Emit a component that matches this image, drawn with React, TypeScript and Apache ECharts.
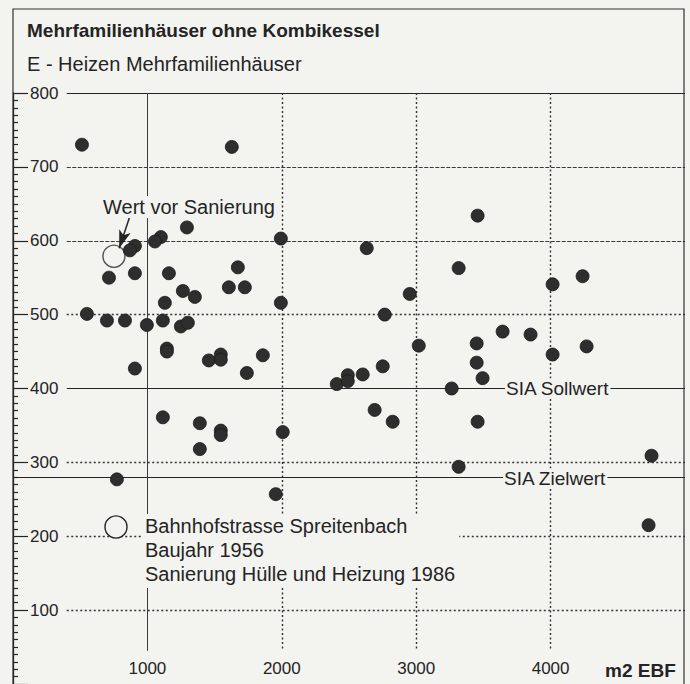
import React, { useEffect, useRef } from "react";
import * as echarts from "echarts";

// ---- data ----
const TITLE = "Mehrfamilienhäuser ohne Kombikessel";
const SUBTITLE = "E - Heizen Mehrfamilienhäuser";
const X_UNIT = "m2 EBF";

// energy reference area (m2 EBF)
const areas = [
  513, 1628, 1294, 3457, 1100, 1056, 907, 870, 1993, 2632,
  714, 907, 1160, 1673, 1606, 1725, 3316, 4015, 4238, 2952,
  550, 699, 833, 996, 1115, 1264, 1353, 1130, 1993, 1249,
  1301, 2766, 3643, 3851, 3019, 3450, 4268, 1145, 1145, 1457,
  1546, 1546, 1859, 907, 1740, 4015, 3450, 3494, 2409, 2491,
  2491, 2602, 2751, 3264, 1115, 1390, 1546, 1546, 1390, 2007,
  2691, 2825, 3457, 3316, 773, 1955, 4751, 4729,
];
// heating energy index
const heating = [
  730, 727, 618, 634, 605, 599, 593, 587, 603, 590,
  550, 556, 556, 564, 537, 537, 563, 541, 552, 528,
  501, 492, 492, 486, 492, 532, 524, 516, 516, 484,
  489, 500, 477, 473, 458, 461, 457, 454, 450, 438,
  446, 439, 445, 427, 421, 446, 435, 414, 406, 418,
  410, 419, 430, 400, 361, 353, 343, 337, 318, 341,
  371, 355, 355, 294, 277, 257, 309, 215,
];

// Bahnhofstrasse Spreitenbach, value before renovation
const beforeArea = 751;
const beforeValue = 579;
const arrowFrom = [866, 631];
const arrowTo = [790, 590];

const Y_TICKS = [0, 100, 200, 300, 400, 500, 600, 700, 800];
const X_TICKS = [0, 1000, 2000, 3000, 4000, 5000];
const SIA_SOLLWERT = 400;
const SIA_ZIELWERT = 280;

const LEGEND_LINES = [
  "Bahnhofstrasse Spreitenbach",
  "Baujahr 1956",
  "Sanierung Hülle und Heizung 1986",
];

// ---- styles ----
const FONT = "'Liberation Sans', Arial, Helvetica, sans-serif";
const BG = "#f3f3f0";
const INK = "#242424";
const DOT = "#2e2e2e";

export default function App() {
  const ref = useRef<HTMLDivElement>(null);

  useEffect(() => {
    if (!ref.current) return;
    const chart = echarts.init(ref.current, null, { renderer: "svg" });

    const solid = { type: "solid", color: INK, width: 1.2 };
    const fineDash = { type: [4, 1.5], color: "#3a3a3a", width: 1.1 };
    const dotted = { type: [2, 2.5], color: "#333", width: 1.4 };

    const hStyle: Record<number, any> = {
      800: solid,
      700: fineDash,
      600: fineDash,
      500: dotted,
      300: dotted,
      200: dotted,
      100: dotted,
    };
    hStyle[SIA_SOLLWERT] = solid;

    const xMax = X_TICKS[X_TICKS.length - 1];
    const yMax = Y_TICKS[Y_TICKS.length - 1];

    const hLines: any[] = Y_TICKS.filter((v) => v > 0).map((v) => [
      { coord: [400, v], lineStyle: hStyle[v] },
      { coord: [xMax, v] },
    ]);
    hLines.push([
      { coord: [0, SIA_ZIELWERT], lineStyle: solid },
      { coord: [xMax, SIA_ZIELWERT] },
    ]);
    const vLines: any[] = X_TICKS.filter((v) => v > 0 && v < xMax).map((v) => [
      {
        coord: [v, yMax],
        lineStyle: v === 1000 ? { type: "solid", color: "#3a3a3a", width: 1 } : dotted,
      },
      { coord: [v, 45] },
    ]);

    const textBox = (extra: any) => ({
      type: "text",
      z: 20,
      style: {
        fill: INK,
        font: `20px ${FONT}`,
        backgroundColor: BG,
        verticalAlign: "middle",
        textVerticalAlign: "middle",
        ...extra,
      },
    });

    chart.setOption({
      animation: false,
      backgroundColor: BG,
      textStyle: { fontFamily: FONT },
      grid: { left: 13, right: 5, top: 93, bottom: -4, containLabel: false },
      xAxis: {
        type: "value",
        min: 0,
        max: xMax,
        interval: 1000,
        axisLine: { show: false },
        axisTick: { show: false },
        splitLine: { show: false },
        axisLabel: {
          inside: true,
          margin: 7,
          fontSize: 17,
          color: INK,
          fontFamily: FONT,
          formatter: (v: number) => (v === 0 || v === xMax ? "" : String(v)),
        },
      },
      yAxis: {
        type: "value",
        min: 0,
        max: yMax,
        interval: 100,
        axisLine: { show: true, lineStyle: { color: INK, width: 1.3 } },
        axisTick: { show: true, inside: true, length: 15, lineStyle: { color: INK, width: 1.2 } },
        minorTick: { show: true, splitNumber: 10, length: 5, lineStyle: { color: INK, width: 1.2 } },
        splitLine: { show: false },
        axisLabel: {
          inside: true,
          margin: 17,
          fontSize: 17,
          color: INK,
          fontFamily: FONT,
          formatter: (v: number) => (v === 0 ? "" : String(v)),
        },
      },
      series: [
        {
          type: "scatter",
          name: "grid",
          data: [],
          z: 1,
          markLine: {
            silent: true,
            symbol: ["none", "none"],
            label: { show: false },
            data: [...hLines, ...vLines],
          },
        },
        {
          type: "scatter",
          name: "Mehrfamilienhäuser",
          z: 5,
          symbolSize: 13,
          itemStyle: { color: DOT, borderColor: "#1a1a1a", borderWidth: 0.8, opacity: 1 },
          data: areas.map((a, i) => [a, heating[i]]),
        },
        {
          type: "scatter",
          name: "Wert vor Sanierung",
          z: 6,
          symbol: "circle",
          symbolSize: 22,
          itemStyle: { color: "rgba(0,0,0,0)", borderColor: INK, borderWidth: 1.4 },
          data: [[beforeArea, beforeValue]],
          markLine: {
            silent: true,
            symbol: ["none", "arrow"],
            symbolSize: [9, 18],
            label: { show: false },
            lineStyle: { type: "solid", color: INK, width: 1.5 },
            data: [[{ coord: arrowFrom }, { coord: arrowTo }]],
          },
        },
      ],
      graphic: [
        {
          type: "rect",
          z: 30,
          shape: { x: 13, y: 9, width: 671, height: 700 },
          style: { fill: "none", stroke: "#333", lineWidth: 1.2 },
        },
        {
          type: "text",
          z: 20,
          x: 27,
          y: 30,
          style: {
            text: TITLE,
            fill: INK,
            font: `bold 19px ${FONT}`,
            verticalAlign: "middle",
            textVerticalAlign: "middle",
          },
        },
        {
          type: "text",
          z: 20,
          x: 27,
          y: 64,
          style: {
            text: SUBTITLE,
            fill: INK,
            font: `20px ${FONT}`,
            verticalAlign: "middle",
            textVerticalAlign: "middle",
          },
        },
        { ...textBox({ text: "Wert vor Sanierung", padding: [1, 2] }), x: 101, y: 207 },
        { ...textBox({ text: "SIA Sollwert", padding: [0, 1], font: `19px ${FONT}` }), x: 505, y: 388 },
        { ...textBox({ text: "SIA Zielwert", padding: [0, 1], font: `19px ${FONT}` }), x: 503, y: 478 },
        {
          type: "circle",
          z: 20,
          shape: { cx: 116, cy: 527, r: 11 },
          style: { fill: BG, stroke: INK, lineWidth: 1.4 },
        },
        {
          type: "text",
          z: 20,
          x: 143,
          y: 514,
          style: {
            text: LEGEND_LINES.join("\n"),
            fill: INK,
            font: `20px ${FONT}`,
            lineHeight: 24,
            backgroundColor: BG,
            padding: [0, 4, 2, 2],
            verticalAlign: "top",
            textVerticalAlign: "top",
          },
        },
        {
          type: "text",
          z: 20,
          x: 605,
          y: 670,
          style: {
            text: X_UNIT,
            fill: INK,
            font: `bold 19px ${FONT}`,
            backgroundColor: BG,
            verticalAlign: "middle",
            textVerticalAlign: "middle",
          },
        },
      ],
    });

    return () => chart.dispose();
  }, []);

  return (
    <div
      ref={ref}
      style={{ position: "fixed", left: 0, top: 0, width: 690, height: 684, background: BG }}
    />
  );
}
